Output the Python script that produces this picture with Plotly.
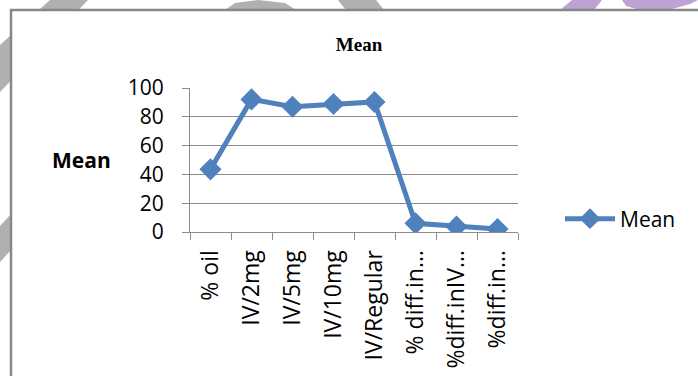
import plotly.graph_objects as go

# Category labels (long labels are shortened with an ellipsis)
categories = ["% oil", "IV/2mg", "IV/5mg", "IV/10mg", "IV/Regular",
              "% diff.in…", "%diff.inIV…", "%diff.in…"]
mean_values = [43.5, 92.1, 87.0, 88.9, 90.3, 6.0, 3.7, 2.1]
y_ticks = [0, 20, 40, 60, 80, 100]

W, H = 698, 376
# plot area in pixels
PL, PR, PT, PB = 190, 518, 88, 232

def px(x):
    return (x - PL) / (PR - PL)

def py(y):
    return (PB - y) / (PB - PT)

def path(points):
    return "M " + " L ".join(f"{px(x):.4f},{py(y):.4f}" for x, y in points) + " Z"

BLUE = "#4F81BD"
GRID = "#8C8C8C"
FONT = "Open Sans"

fig = go.Figure()
fig.add_trace(go.Scatter(
    x=categories, y=mean_values, mode="lines+markers", name="Mean",
    line=dict(color=BLUE, width=5),
    marker=dict(symbol="diamond", size=17, color=BLUE),
))

# faint page decorations around the framed chart
deco = []
grey = "rgba(150,150,150,0.75)"
purple = "rgba(170,140,200,0.8)"
for pts, col in [
    ([(50, 0), (88, 0), (0, 92), (0, 45)], grey),
    ([(0, 226), (11, 214), (11, 250), (0, 262)], grey),
    ([(225, 10), (235, 3), (258, 0), (285, 3), (296, 10)], grey),
    ([(338, 0), (376, 0), (384, 10), (346, 10)], grey),
    ([(572, 0), (602, 0), (594, 10), (560, 10)], purple),
    ([(622, 0), (698, 0), (690, 4), (672, 9), (640, 10), (626, 6)], purple),
]:
    deco.append(dict(type="path", path=path(pts), xref="paper", yref="paper",
                     fillcolor=col, line=dict(width=0), layer="below"))

# framed white chart area
deco.append(dict(type="rect", xref="paper", yref="paper",
                 x0=px(11), x1=px(710), y0=py(390), y1=py(10),
                 fillcolor="white", line=dict(color="#878787", width=2.5),
                 layer="below"))

fig.update_layout(
    width=W, height=H,
    margin=dict(l=PL, r=W - PR, t=PT, b=H - PB),
    paper_bgcolor="white", plot_bgcolor="rgba(0,0,0,0)",
    shapes=deco,
    title=dict(text="<b>Mean</b>", x=px(359), xref="paper", xanchor="center",
               y=1 - 44 / H, yref="container", yanchor="middle",
               font=dict(family="Liberation Serif", size=19, color="black")),
    showlegend=True,
    legend=dict(x=px(560), xanchor="left", y=py(219), yanchor="middle",
                font=dict(family=FONT, size=21, color="black"),
                bgcolor="rgba(0,0,0,0)", itemwidth=50),
    annotations=[dict(text="<b>Mean</b>", x=px(81), y=py(160), xref="paper",
                      yref="paper", showarrow=False, xanchor="center",
                      yanchor="middle",
                      font=dict(family=FONT, size=21, color="black"))],
)

fig.update_xaxes(
    type="category", range=[-0.5, len(categories) - 0.5], automargin=False,
    showline=True, linecolor=GRID, linewidth=1,
    ticks="outside", tickson="boundaries", ticklen=7, tickcolor=GRID,
    tickangle=-90, ticklabelstandoff=8,
    tickfont=dict(family=FONT, size=23, color="black"),
    showgrid=False,
)
fig.update_yaxes(
    range=[0, 100], tickvals=y_ticks, automargin=False,
    showline=True, linecolor=GRID, linewidth=1,
    ticks="outside", ticklen=7, tickcolor=GRID, ticklabelstandoff=14,
    tickfont=dict(family=FONT, size=21, color="black"),
    showgrid=True, gridcolor=GRID, gridwidth=1, zeroline=False,
)

fig.write_html("out.html")
